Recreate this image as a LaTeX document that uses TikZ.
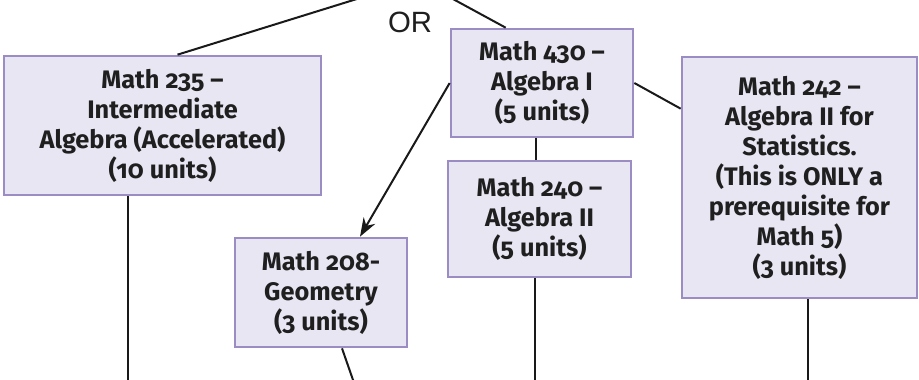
\documentclass[tikz,border=0pt]{standalone}
\usepackage{fontspec}
\setmainfont{Fira Sans}[Numbers=OldStyle]
\newfontfamily\orfont{Liberation Sans}
\usetikzlibrary{positioning, arrows.meta, calc}
\definecolor{boxfill}{HTML}{E8E6F2}
\definecolor{boxline}{HTML}{9B8DC4}

\begin{document}
\begin{tikzpicture}[
    x=0.75pt, y=-0.75pt,
    course/.style={
        rectangle,
        draw=boxline, fill=boxfill, line width=2pt,
        align=center, inner sep=0pt,
        font=\fontsize{19}{22.5}\selectfont\bfseries,
        text=black!88
    },
    link/.style={line width=1.5pt, draw=black!90},
    prereq/.style={link, -{Stealth[length=14pt, width=10pt]}}
]
    \useasboundingbox (0,0) rectangle (919,379);
    \clip (0,0) rectangle (919,379);

    % The 5 Courses ===========================
    \node[course, minimum width=237.75pt, minimum height=104.25pt] (Inter) at (162.5,125.5) {
        Math 235 --\\
        Intermediate\\
        Algebra (Accelerated)\\
        (10 units)
    };

    \node[course, minimum width=136.5pt, minimum height=81pt] (AlgI) at (542,83) {
        Math 430 --\\
        Algebra I\\
        (5 units)
    };

    \node[course, minimum width=137.25pt, minimum height=87pt] (AlgII) at (539.5,219) {
        Math 240 --\\
        Algebra II\\
        (5 units)
    };

    \node[course, minimum width=129pt, minimum height=81.75pt] (Geom) at (321,292.5) {
        Math 208-\\
        Geometry\\
        (3 units)
    };

    \node[course, minimum width=176.25pt, minimum height=180.75pt] (Stats) at (799.5,177.5) {
        Math 242 --\\
        Algebra II for\\
        Statistics.\\
        (This is ONLY a\\
        prerequisite for\\
        Math 5)\\
        (3 units)
    };

    \node[font=\orfont\fontsize{22}{24}\selectfont, text=black!88] (Or) at (410,22) {OR};

    % Loose ends off the page ====================
    \coordinate (Split) at (418,-20);
    \coordinate (InterDown) at (128,400);
    \coordinate (GeomDown) at (360,400);
    \coordinate (AlgIIDown) at (535,400);
    \coordinate (StatsDown) at (808,400);

    % Connections ====================
    % From the split above to both starting courses
    \draw[link] (Split) -- ($(Inter.north)+(15,0)$);
    \draw[link] (Split) -- ($(AlgI.north west)+(56,0)$);

    % From Algebra I to the next courses
    \draw[prereq] (AlgI.west) -- ($(Geom.north)+(39,0)$);
    \draw[link] (AlgI.east) -- ($(Stats.north west)+(0,53)$);
    \draw[link] ($(AlgI.south)+(-6,0)$) -- ($(AlgII.north)+(-3.5,0)$);

    % Down to the rest of the chart
    \draw[link] (Inter.south -| InterDown) -- (InterDown);
    \draw[link] ($(Geom.south)+(21,0)$) -- (GeomDown);
    \draw[link] (AlgII.south -| AlgIIDown) -- (AlgIIDown);
    \draw[link] (Stats.south -| StatsDown) -- (StatsDown);

\end{tikzpicture}
\end{document}
